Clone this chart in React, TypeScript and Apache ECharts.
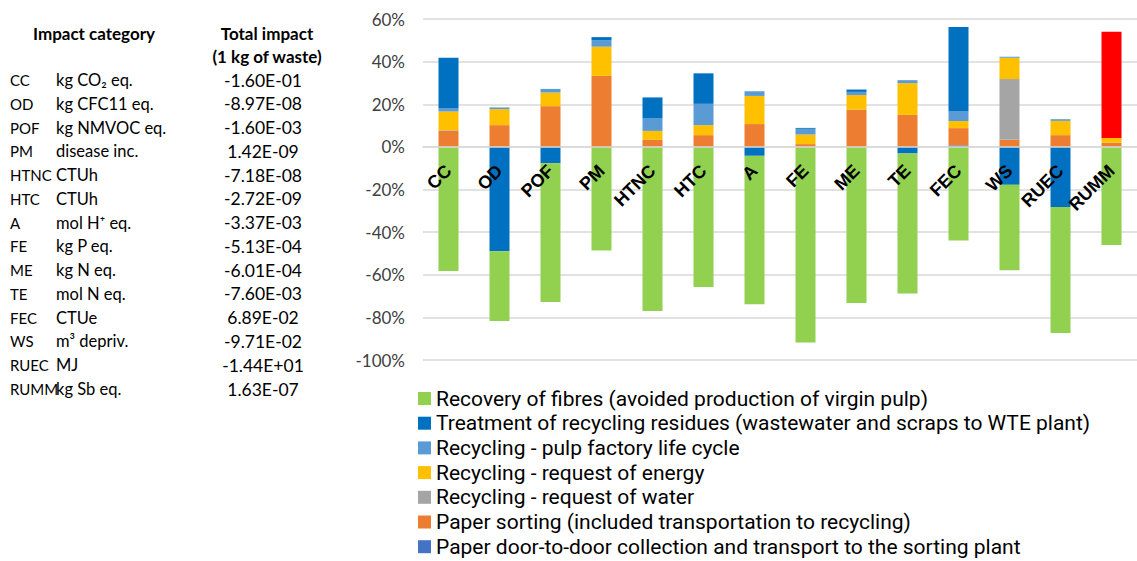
import React, { useEffect, useRef } from "react";
import * as echarts from "echarts";

// Impact categories (x axis) and the summary table on the left
const categories = ["CC", "OD", "POF", "PM", "HTNC", "HTC", "A", "FE", "ME", "TE", "FEC", "WS", "RUEC", "RUMM"];
const units = [
  "kg CO₂ eq.", "kg CFC11 eq.", "kg NMVOC eq.", "disease inc.", "CTUh", "CTUh", "mol H⁺ eq.",
  "kg P eq.", "kg N eq.", "mol N eq.", "CTUe", "m³ depriv.", "MJ", "kg Sb eq.",
];
const totals = [
  "-1.60E-01", "-8.97E-08", "-1.60E-03", "1.42E-09", "-7.18E-08", "-2.72E-09", "-3.37E-03",
  "-5.13E-04", "-6.01E-04", "-7.60E-03", "6.89E-02", "-9.71E-02", "-1.44E+01", "1.63E-07",
];

// Value axis range (%)
const Y_MIN = -100;
const Y_MAX = 60;
const Y_STEP = 20;

// Contributions (%) per process, listed from the bottom of the stack upwards
const doorToDoor = [0, 0, 0, 0, 0, 0, 0, 0, 0, 0, 0.7, 0, 0, 0];
const paperSorting = [7.5, 10.2, 19.1, 33.3, 3.3, 5.5, 10.7, 1.3, 17.5, 15.0, 8.1, 3.3, 5.5, 2.0];
const requestWater = [0.3, 0, 0, 0, 0, 0, 0, 0, 0, 0, 0, 28.5, 0, 0];
const requestEnergy = [8.8, 7.5, 6.4, 13.7, 4.2, 4.7, 13.2, 4.5, 6.8, 14.9, 3.3, 10.0, 6.7, 2.2];
const pulpFactory = [1.4, 0.8, 1.7, 3.1, 5.8, 10.0, 2.2, 2.7, 1.5, 1.4, 4.5, 0.5, 0.8, 49.8];
const residuesTreatment = [23.8, -49.0, -7.7, 1.4, 9.9, 14.3, -4.2, 0.4, 1.1, -3.1, 39.7, -17.8, -28.2, 0];
const fibreRecovery = [-58.2, -32.7, -65.1, -48.6, -77.0, -65.7, -69.6, -91.8, -73.2, -65.7, -43.9, -40.1, -59.1, -46.0];

const seriesDefs = [
  { name: "Paper door-to-door collection and transport to the sorting plant", data: doorToDoor, color: "#4472C4" },
  { name: "Paper sorting (included transportation to recycling)", data: paperSorting, color: "#ED7D31" },
  { name: "Recycling - request of water", data: requestWater, color: "#A5A5A5" },
  { name: "Recycling - request of energy", data: requestEnergy, color: "#FFC000" },
  { name: "Recycling - pulp factory life cycle", data: pulpFactory, color: "#5B9BD5" },
  { name: "Treatment of recycling residues (wastewater and scraps to WTE plant)", data: residuesTreatment, color: "#0070C0" },
  { name: "Recovery of fibres (avoided production of virgin pulp)", data: fibreRecovery, color: "#92D050" },
];

// The RUMM pulp-factory segment is highlighted in red
const highlighted = { series: "Recycling - pulp factory life cycle", category: "RUMM", color: "#FF0000" };

const FONT = "Lato, 'Noto Sans', sans-serif";
const LEGEND_FONT = "Roboto, 'Noto Sans', sans-serif";
const GRID = { left: 423, top: 19, width: 719, height: 341 };

function buildTable() {
  const rowTop = 80;
  const rowStep = 23.77;
  const head = (text: string, x: number, y: number) => ({
    type: "text",
    x,
    y,
    style: { text, font: `bold 17px ${FONT}`, fill: "#000", align: "center", verticalAlign: "middle" },
  });
  const els: any[] = [
    head("Impact category", 94, 33),
    head("Total impact", 267, 33),
    head("(1 kg of waste)", 267, 56),
  ];
  categories.forEach((c, i) => {
    const y = rowTop + i * rowStep;
    els.push({ type: "text", x: 10, y, style: { text: c, font: `15px ${FONT}`, fill: "#000", align: "left", verticalAlign: "middle" } });
    els.push({ type: "text", x: 56, y, style: { text: units[i], font: `16.5px ${FONT}`, fill: "#000", align: "left", verticalAlign: "middle" } });
    els.push({ type: "text", x: 263, y, style: { text: totals[i], font: `17.5px ${FONT}`, fill: "#000", align: "center", verticalAlign: "middle" } });
  });
  return els;
}

export default function App() {
  const ref = useRef<HTMLDivElement>(null);

  useEffect(() => {
    if (!ref.current) return;
    const chart = echarts.init(ref.current, undefined, { renderer: "svg" });

    const series = seriesDefs.map((s) => ({
      name: s.name,
      type: "bar",
      stack: "total",
      barWidth: 20,
      itemStyle: { color: s.color },
      data: s.data.map((v, i) =>
        s.name === highlighted.series && categories[i] === highlighted.category
          ? { value: v, itemStyle: { color: highlighted.color } }
          : v
      ),
    }));

    // Category axis sits on the 0% line: shift it up from the grid bottom
    const zeroOffset = -((0 - Y_MIN) / (Y_MAX - Y_MIN)) * GRID.height;

    chart.setOption({
      animation: false,
      textStyle: { fontFamily: FONT },
      grid: { ...GRID, containLabel: false },
      legend: {
        orient: "vertical",
        left: 418,
        top: 386.5,
        height: 200,
        padding: 0,
        itemWidth: 13,
        itemHeight: 13,
        itemGap: 0.7,
        icon: "rect",
        data: [...seriesDefs].reverse().map((s) => s.name),
        textStyle: { fontSize: 21, color: "#000", fontFamily: LEGEND_FONT, lineHeight: 24 },
      },
      xAxis: {
        type: "category",
        data: categories,
        position: "bottom",
        offset: zeroOffset,
        z: 10,
        axisLine: { onZero: false, lineStyle: { color: "#D9D9D9", width: 1.5 } },
        axisTick: { show: false },
        axisLabel: {
          rotate: 45,
          margin: 21,
          interval: 0,
          fontSize: 18,
          fontWeight: "bold",
          color: "#000",
          fontFamily: "'Liberation Sans', Arial, sans-serif",
        },
      },
      yAxis: {
        type: "value",
        min: Y_MIN,
        max: Y_MAX,
        interval: Y_STEP,
        axisLine: { show: false },
        axisTick: { show: false },
        axisLabel: { formatter: "{value}%", fontSize: 17, color: "#404040", margin: 18, fontFamily: FONT },
        splitLine: { lineStyle: { color: "#D9D9D9", width: 1.5 } },
      },
      series,
      graphic: buildTable(),
    });

    return () => chart.dispose();
  }, []);

  return (
    <div
      ref={ref}
      style={{ position: "fixed", left: 0, top: 0, width: 1137, height: 561, background: "#fff" }}
    />
  );
}
